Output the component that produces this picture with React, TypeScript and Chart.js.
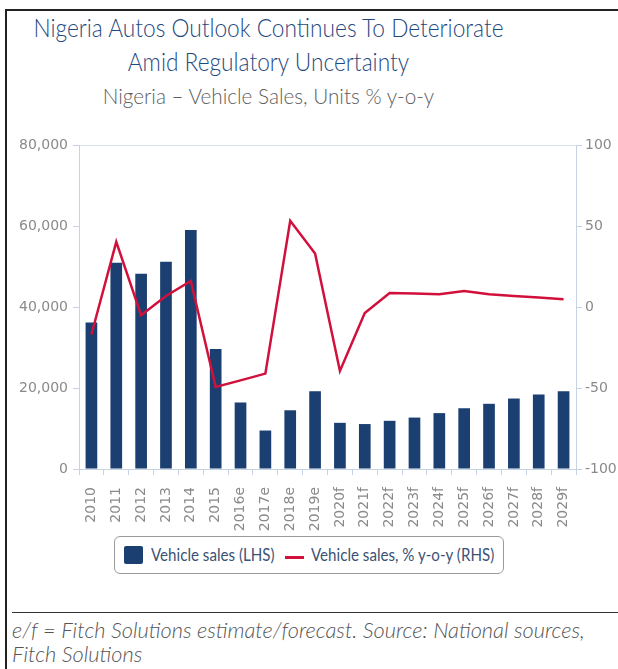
import React, { useEffect, useRef } from "react";
import { Chart, registerables } from "chart.js";
Chart.register(...registerables);

const titleLines = ["Nigeria Autos Outlook Continues To Deteriorate", "Amid Regulatory Uncertainty"];
const subtitle = "Nigeria \u2013 Vehicle Sales, Units % y-o-y";
const footnoteLines = ["e/f = Fitch Solutions estimate/forecast. Source: National sources,", "Fitch Solutions"];

const categories = ["2010", "2011", "2012", "2013", "2014", "2015", "2016e", "2017e", "2018e", "2019e", "2020f", "2021f", "2022f", "2023f", "2024f", "2025f", "2026f", "2027f", "2028f", "2029f"];
const salesLabel = "Vehicle sales (LHS)";
const growthLabel = "Vehicle sales, % y-o-y (RHS)";
const vehicleSales = [36200, 50900, 48200, 51200, 59000, 29600, 16400, 9500, 14500, 19200, 11400, 11100, 11900, 12700, 13800, 15000, 16100, 17400, 18400, 19200];
const salesGrowth = [-17.0, 40.2, -5.1, 6.8, 16.1, -49.4, -45.3, -41.1, 53.2, 33.0, -39.5, -3.7, 8.7, 8.3, 7.9, 9.9, 7.9, 6.8, 5.8, 4.8];
const leftAxis = { min: 0, max: 80000, step: 20000 };
const rightAxis = { min: -100, max: 100, step: 50 };

const BAR = "#1b3f70";
const LINE = "#d2103c";
const AXIS = "#c5d3e3";
const TICK_TEXT = "#8a8a8a";

export default function App() {
  const ref = useRef<HTMLCanvasElement | null>(null);

  useEffect(() => {
    document.body.style.margin = "0";
    if (!ref.current) return;
    const chart = new Chart(ref.current, {
      type: "bar",
      data: {
        labels: categories,
        datasets: [
          {
            type: "line",
            label: growthLabel,
            data: salesGrowth,
            yAxisID: "y1",
            borderColor: LINE,
            backgroundColor: LINE,
            borderWidth: 2.5,
            pointRadius: 0,
            tension: 0,
            order: 0,
          },
          {
            type: "bar",
            label: salesLabel,
            data: vehicleSales,
            yAxisID: "y",
            backgroundColor: BAR,
            categoryPercentage: 1,
            barPercentage: 0.47,
            order: 1,
          },
        ],
      },
      options: {
        animation: false,
        responsive: false,
        maintainAspectRatio: false,
        layout: { padding: { top: 25, left: 0, right: 0, bottom: 0 } },
        plugins: { legend: { display: false }, tooltip: { enabled: false }, title: { display: false } },
        scales: {
          x: {
            offset: true,
            grid: { offset: true, drawOnChartArea: false, tickLength: 6, tickColor: AXIS, color: AXIS },
            border: { display: true, color: AXIS },
            ticks: {
              minRotation: 90,
              maxRotation: 90,
              autoSkip: false,
              padding: 12,
              color: TICK_TEXT,
              font: { family: "DejaVu Sans", size: 14 },
            },
            afterFit: (s: any) => { s.height = 71; },
          },
          y: {
            position: "left",
            min: leftAxis.min,
            max: leftAxis.max,
            ticks: {
              stepSize: leftAxis.step,
              padding: 5,
              color: TICK_TEXT,
              font: { family: "DejaVu Sans", size: 14 },
              callback: (v: any) => Number(v).toLocaleString("en-US"),
            },
            grid: {
              drawOnChartArea: true,
              tickLength: 6,
              tickColor: AXIS,
              color: (c: any) => (c.tick && c.tick.value === leftAxis.max ? "#dde3ea" : "rgba(0,0,0,0)"),
            },
            border: { display: true, color: AXIS },
            afterFit: (s: any) => { s.width = 79; },
          },
          y1: {
            position: "right",
            min: rightAxis.min,
            max: rightAxis.max,
            ticks: {
              stepSize: rightAxis.step,
              padding: 3,
              color: TICK_TEXT,
              font: { family: "DejaVu Sans", size: 14 },
            },
            grid: { drawOnChartArea: false, tickLength: 6, tickColor: AXIS, color: AXIS },
            border: { display: true, color: AXIS },
            afterFit: (s: any) => { s.width = 42; },
          },
        },
      },
    });
    return () => chart.destroy();
  }, []);

  const legendText: React.CSSProperties = {
    position: "absolute",
    top: 7,
    fontFamily: "Lato",
    fontSize: 17,
    color: "#3b5275",
    whiteSpace: "nowrap",
    transform: "scaleX(0.89)",
    transformOrigin: "left center",
    lineHeight: "22px",
  };

  return (
    <div style={{ position: "relative", width: 618, height: 669, background: "#fff", overflow: "hidden" }}>
      <div style={{ position: "absolute", left: 5, top: 9, right: 0, bottom: 0, borderLeft: "2px solid #222", borderTop: "2px solid #222" }} />
      <div style={{ position: "absolute", left: 0, width: 537, top: 10, textAlign: "center", fontFamily: "Lato", fontWeight: 300, color: "#1f4a80", fontSize: 25.5, lineHeight: "34.3px", whiteSpace: "nowrap" }}>
        {titleLines.map((t, i) => (
          <div key={i} style={{ transform: "scaleX(0.89)" }}>{t}</div>
        ))}
        <div style={{ fontSize: 22, color: "#606060", lineHeight: "30px", marginTop: 2, transform: "scaleX(0.94)" }}>{subtitle}</div>
      </div>
      <canvas ref={ref} width={618} height={420} style={{ position: "absolute", left: 0, top: 120, width: 618, height: 420 }} />
      <div style={{ position: "absolute", left: 114, top: 536, width: 388, height: 36, border: "1px solid #9a9a9a", borderRadius: 6, background: "#fff" }}>
        <div style={{ position: "absolute", left: 9, top: 9, width: 19, height: 18, background: BAR, borderRadius: 2 }} />
        <div style={{ ...legendText, left: 36 }}>{salesLabel}</div>
        <div style={{ position: "absolute", left: 170, top: 19, width: 19, height: 3, background: LINE }} />
        <div style={{ ...legendText, left: 196 }}>{growthLabel}</div>
      </div>
      <div style={{ position: "absolute", left: 12, right: 0, top: 612, borderTop: "1px solid #333" }} />
      <div style={{ position: "absolute", left: 12, top: 618, fontFamily: "Lato", fontWeight: 300, fontStyle: "italic", fontSize: 22, lineHeight: "23.7px", color: "#555", whiteSpace: "nowrap" }}>
        {footnoteLines.map((t, i) => (
          <div key={i} style={{ transform: "scaleX(0.99)", transformOrigin: "left center" }}>{t}</div>
        ))}
      </div>
    </div>
  );
}
